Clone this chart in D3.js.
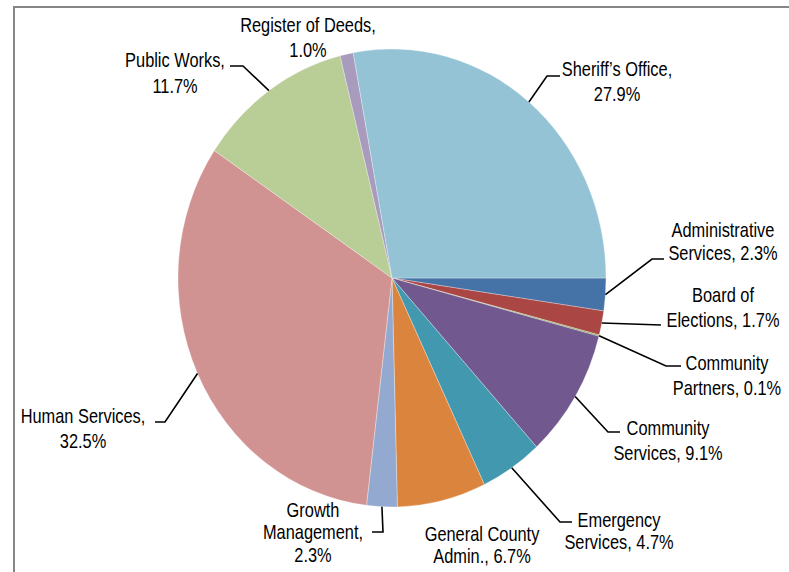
<!DOCTYPE html>
<html>
<head>
<meta charset="utf-8">
<script src="https://cdn.jsdelivr.net/npm/d3@7"></script>
<style>
  html, body { margin: 0; padding: 0; background: #fff; }
  svg { display: block; }
  text { font-family: "Liberation Sans", Arial, sans-serif; font-size: 20px; fill: #000; }
</style>
</head>
<body>
<svg id="chart" width="789" height="572"></svg>
<script>
// ---- data ----
const categories = [
  "Administrative\nServices",
  "Board of\nElections",
  "Community\nPartners",
  "Community\nServices",
  "Emergency\nServices",
  "General County\nAdmin.",
  "Growth\nManagement",
  "Human Services",
  "Public Works",
  "Register of Deeds",
  "Sheriff\u2019s Office"
];
const values = [2.3, 1.7, 0.1, 9.1, 4.7, 6.7, 2.3, 32.5, 11.7, 1.0, 27.9];
const colors = ["#4572A7", "#AA4643", "#89A54E", "#71588F", "#4198AF", "#DB843D",
                "#93A9CF", "#D19392", "#B9CD96", "#A99BBD", "#93C3D5"];

// ---- layout (label placement) ----
const labelLayout = [
  { x: 723, ys: [237, 260], pctOwn: false, leader: [[652, 259], [664, 259]] },
  { x: 723, ys: [302, 327], pctOwn: false, leader: [[661, 325]] },
  { x: 727, ys: [370, 395], pctOwn: false, leader: [[666, 366], [681, 366]] },
  { x: 668, ys: [435, 460], pctOwn: false, leader: [[608, 432], [620, 432]] },
  { x: 619, ys: [527, 549], pctOwn: false, leader: [[560, 522], [572, 522]] },
  { x: 482, ys: [541, 563], pctOwn: false, leader: null },
  { x: 313, ys: [517, 539, 562], pctOwn: true, leader: [[383, 532], [372, 532]] },
  { x: 83,  ys: [423, 448], pctOwn: true, leader: [[165, 422], [155, 422]] },
  { x: 175, ys: [67, 93], pctOwn: true, leader: [[243, 66], [230, 66]] },
  { x: 308, ys: [32, 57], pctOwn: true, leader: null },
  { x: 617, ys: [76, 101], pctOwn: true, leader: [[547, 76], [560, 76]] }
];

const cx = 392, cy = 278, rx = 214, ry = 229;
const narrow = 0.82;

const svg = d3.select("#chart");

// frame
svg.append("path")
  .attr("d", `M14,572 L14,7 L789,7`)
  .attr("fill", "none")
  .attr("stroke", "#868686")
  .attr("stroke-width", 2);

const pie = d3.pie()
  .sort(null)
  .value(d => d)
  .startAngle(Math.PI / 2)
  .endAngle(Math.PI / 2 + 2 * Math.PI);

const arcs = pie(values);
const arc = d3.arc().innerRadius(0).outerRadius(rx);

const g = svg.append("g")
  .attr("transform", `translate(${cx},${cy}) scale(1,${ry / rx})`);

g.selectAll("path.slice")
  .data(arcs)
  .join("path")
  .attr("class", "slice")
  .attr("d", arc)
  .attr("fill", (d, i) => colors[i])
  .attr("stroke", "#ffffff")
  .attr("stroke-opacity", 0.5)
  .attr("stroke-width", 0.6)
  .attr("vector-effect", "non-scaling-stroke");

const fmt = v => v.toFixed(1) + "%";

arcs.forEach((d, i) => {
  const L = labelLayout[i];
  const a = (d.startAngle + d.endAngle) / 2;
  const sx = cx + rx * Math.sin(a);
  const sy = cy - ry * Math.cos(a);
  if (L.leader) {
    const pts = [[sx, sy]].concat(L.leader);
    svg.append("path")
      .attr("d", d3.line()(pts))
      .attr("fill", "none")
      .attr("stroke", "#000")
      .attr("stroke-width", 1.6);
  }
  const parts = categories[i].split("\n");
  let lines;
  if (L.pctOwn) {
    lines = parts.slice();
    lines[lines.length - 1] += ",";
    lines.push(fmt(values[i]));
  } else {
    lines = parts.slice();
    lines[lines.length - 1] += ", " + fmt(values[i]);
  }
  const t = svg.append("text")
    .attr("text-anchor", "middle")
    .attr("transform", `translate(${L.x},0) scale(${narrow},1)`);
  lines.forEach((ln, k) => {
    t.append("tspan").attr("x", 0).attr("y", L.ys[k]).text(ln);
  });
});
</script>
</body>
</html>
